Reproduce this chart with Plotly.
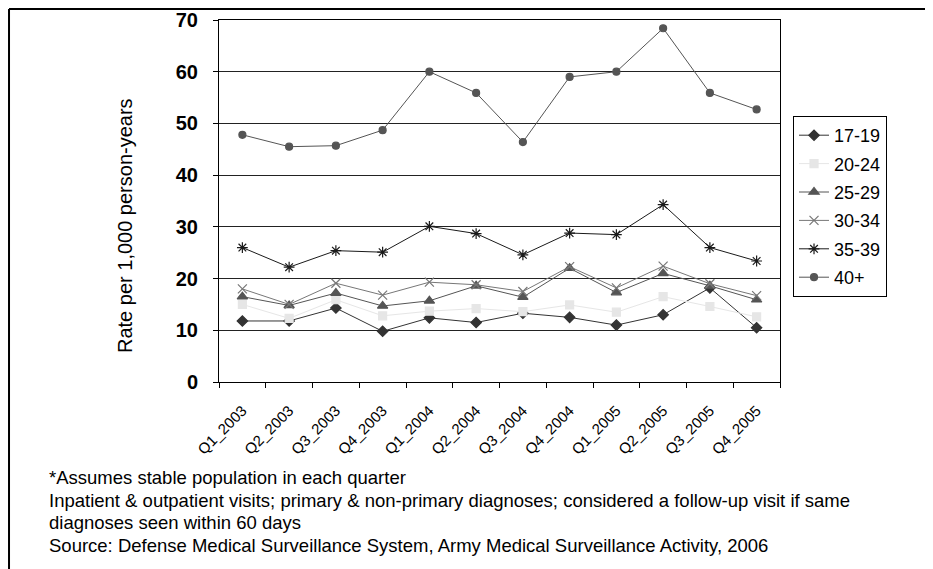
import plotly.graph_objects as go

quarters = ["Q1_2003", "Q2_2003", "Q3_2003", "Q4_2003", "Q1_2004", "Q2_2004",
            "Q3_2004", "Q4_2004", "Q1_2005", "Q2_2005", "Q3_2005", "Q4_2005"]

age_17_19 = [11.8, 11.8, 14.3, 9.8, 12.4, 11.5, 13.3, 12.5, 11.0, 13.0, 18.2, 10.5]
age_20_24 = [15.0, 12.3, 15.9, 12.8, 13.7, 14.2, 13.6, 14.9, 13.5, 16.5, 14.6, 12.6]
age_25_29 = [16.5, 14.8, 17.2, 14.7, 15.7, 18.6, 16.4, 22.0, 17.3, 21.0, 18.6, 15.9]
age_30_34 = [18.0, 15.0, 19.1, 16.8, 19.3, 18.8, 17.5, 22.3, 18.2, 22.4, 19.0, 16.7]
age_35_39 = [26.0, 22.2, 25.4, 25.1, 30.1, 28.7, 24.6, 28.8, 28.5, 34.3, 26.0, 23.4]
age_40_plus = [47.8, 45.5, 45.7, 48.7, 60.0, 55.9, 46.4, 59.0, 60.0, 68.4, 55.9, 52.7]

series = [
    ("17-19", age_17_19, "#333333", "diamond", 8),
    ("20-24", age_20_24, "#e6e6e6", "square", 8),
    ("25-29", age_25_29, "#555555", "triangle-up", 9),
    ("30-34", age_30_34, "#777777", "x-thin-open", 9),
    ("35-39", age_35_39, "#1a1a1a", "asterisk-open", 9),
    ("40+", age_40_plus, "#555555", "circle", 7),
]

fig = go.Figure()
for name, vals, color, symbol, size in series:
    fig.add_trace(go.Scatter(
        x=quarters, y=vals, name=name, mode="lines+markers",
        legendgroup=name,
        line=dict(color=color, width=1),
        marker=dict(symbol=symbol, size=size, color=color,
                    line=dict(color=color, width=1.2)),
    ))

font_family = "Liberation Sans, Arial, sans-serif"

fig.update_layout(
    width=925, height=561,
    margin=dict(l=211, r=153, t=12, b=187),
    paper_bgcolor="white", plot_bgcolor="white",
    font=dict(family=font_family, color="black"),
    showlegend=True,
    legend=dict(
        x=1.0232, y=0.7348, xanchor="left", yanchor="top",
        bordercolor="black", borderwidth=1,
        font=dict(size=18, family=font_family, color="black"),
        tracegroupgap=2,
        bgcolor="white",
    ),
    xaxis=dict(
        type="category", tickangle=-45, automargin=False,
        tickfont=dict(size=15, family=font_family),
        showline=True, linecolor="black", linewidth=1, mirror=True,
        ticks="outside", ticklen=5, tickcolor="black", tickson="boundaries",
        ticklabelstandoff=13,
        showgrid=False, range=[-0.5, 11.5],
    ),
    yaxis=dict(
        range=[0, 70], dtick=10, automargin=False,
        tickfont=dict(size=20, family=font_family, weight="bold"),
        showline=True, linecolor="black", linewidth=1, mirror=True,
        ticks="outside", ticklen=5, tickcolor="black",
        showgrid=True, gridcolor="#222222", gridwidth=1,
        zeroline=False,
        ticklabelstandoff=11,
    ),
)

# y-axis title (placed as in the original, slightly below plot centre)
fig.add_annotation(
    text="Rate per 1,000 person-years", xref="paper", yref="paper",
    x=(125 - 219) / 561, y=(382 - 225) / 362,
    xanchor="center", yanchor="middle", textangle=-90, showarrow=False,
    font=dict(size=20, family=font_family, color="black"),
)

# outer frame (top & left visible)
fig.add_shape(type="line", xref="paper", yref="paper",
              x0=-0.3743, x1=2.0, y0=1.0304, y1=1.0304,
              line=dict(color="black", width=2))
fig.add_shape(type="line", xref="paper", yref="paper",
              x0=-0.3743, x1=-0.3743, y0=-1.0, y1=1.0304,
              line=dict(color="black", width=2))

notes = [
    "*Assumes stable population in each quarter",
    "Inpatient &amp; outpatient visits; primary &amp; non-primary diagnoses; considered a follow-up visit if same",
    "diagnoses seen within 60 days",
    "Source: Defense Medical Surveillance System, Army Medical Surveillance Activity, 2006",
]
note_y_px = [477, 500, 522, 545]
for txt, py in zip(notes, note_y_px):
    fig.add_annotation(
        text=txt, xref="paper", yref="paper",
        x=(47 - 219) / 561, y=(382 - py) / 362,
        xanchor="left", yanchor="middle", showarrow=False,
        font=dict(size=18.5, family=font_family, color="black"),
    )

fig.write_html("out.html")
